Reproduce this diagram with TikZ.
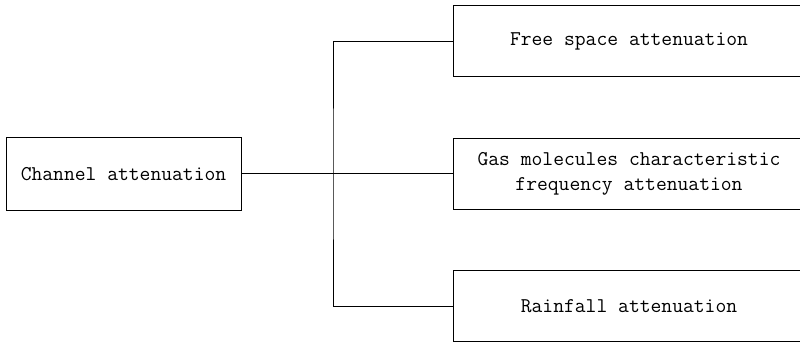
\documentclass[tikz,border=0pt]{standalone}
\usepackage{fontspec}
\usetikzlibrary{positioning}

\tikzset{
  boite/.style={draw, line width=1pt, inner sep=0pt, align=center,
    font=\ttfamily\fontsize{21}{25}\selectfont},
  gauche/.style={boite, minimum width=235pt, minimum height=72pt},
  droite/.style={boite, minimum width=352pt, minimum height=71pt}
}

\begin{document}
\begin{tikzpicture}[x=1pt, y=1pt]
\useasboundingbox (0,0) rectangle (800,343);
% Boites
\node[gauche] (canal) at (123.5,169) {Channel attenuation};
\node[droite] (libre) at (629,301.5) {Free space attenuation};
\node[droite] (gaz) at (629,169) {Gas molecules characteristic\\frequency attenuation};
\node[droite] (pluie) at (629,37) {Rainfall attenuation};
% Liaisons
\coordinate (noeud) at (333,169);
\draw[line width=1pt] (canal.east) -- (gaz.west);
\draw[line width=1pt] (libre.west) -| (noeud) |- (pluie.west);
\end{tikzpicture}
\end{document}
